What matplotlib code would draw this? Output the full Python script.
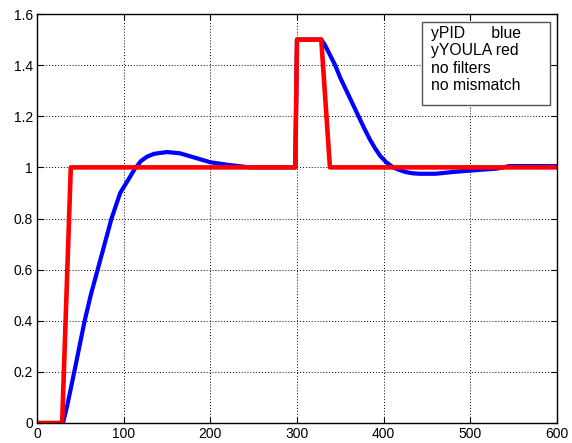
import numpy as np
import matplotlib
matplotlib.use('Agg')
import matplotlib.pyplot as plt
from matplotlib.patches import Rectangle
from matplotlib.ticker import FuncFormatter

plt.rcParams['font.family'] = ['Liberation Sans', 'DejaVu Sans']

# PID response (blue)
t_pid = [0, 30, 35, 43, 55, 62, 70, 78, 86, 96, 105, 113, 120, 127, 135, 150,
         165, 180, 200, 220, 245, 298, 300, 328, 332, 338, 344, 350, 357, 364,
         371, 378, 384, 390, 396, 403, 411, 418, 425, 433, 441, 460, 480, 510,
         530, 545, 600]
y_pid = [0, 0, 0.07, 0.2, 0.4, 0.5, 0.6, 0.7, 0.8, 0.9, 0.95, 0.995, 1.025,
         1.042, 1.053, 1.06, 1.055, 1.04, 1.02, 1.01, 1.0, 1.0, 1.5, 1.5, 1.48,
         1.44, 1.4, 1.35, 1.3, 1.25, 1.2, 1.15, 1.11, 1.075, 1.045, 1.02, 1.0,
         0.99, 0.982, 0.977, 0.975, 0.975, 0.982, 0.99, 0.995, 1.005, 1.005]

# Youla response (red)
t_youla = [0, 29, 39, 298, 300, 328, 338, 600]
y_youla = [0, 0, 1, 1, 1.5, 1.5, 1, 1]

note_lines = ['yPID      blue', 'yYOULA red', 'no filters', 'no mismatch']

fig = plt.figure(figsize=(5.72, 4.43), dpi=100)
ax = fig.add_axes([37 / 572, 20 / 443, 520 / 572, 409 / 443])

ax.plot(t_pid, y_pid, color='#0000ff', linewidth=3.0)
ax.plot(t_youla, y_youla, color='#ff0000', linewidth=3.3)

ax.set_xlim(0, 600)
ax.set_ylim(0, 1.6)
ax.set_xticks(np.arange(0, 601, 100))
ax.set_yticks(np.arange(0, 1.61, 0.2))
ax.yaxis.set_major_formatter(FuncFormatter(lambda v, p: '%g' % round(v, 1)))
ax.tick_params(direction='in', top=True, right=True, labelsize=10, length=4, pad=3)
ax.grid(True, color='black', linestyle=(0, (1, 2)), linewidth=0.7)
for s in ax.spines.values():
    s.set_linewidth(1.0)

# note box
ax.add_patch(Rectangle((0.740, 0.778), 0.247, 0.202, transform=ax.transAxes,
                       facecolor='white', edgecolor='#555555', linewidth=1.0, zorder=5))
ax.text(0.757, 0.970, '\n'.join(note_lines), transform=ax.transAxes,
        fontsize=11.3, va='top', ha='left', linespacing=1.18, zorder=6)

fig.savefig('out.png', dpi=100)
